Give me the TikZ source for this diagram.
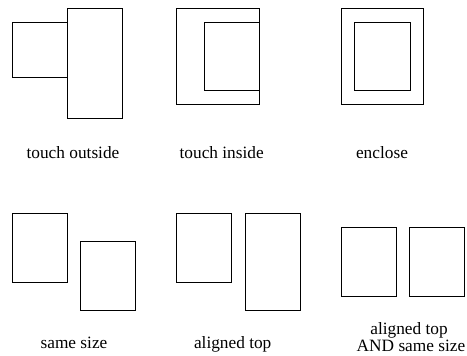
\documentclass[tikz,border=0pt]{standalone}
\usepackage{fontspec}
\setmainfont{Liberation Serif}
\begin{document}
\begin{tikzpicture}[x=1pt,y=-1pt,
  box/.style={draw=black,line width=1pt},
  lbl/.style={anchor=base,inner sep=0pt,font=\fontsize{17.3}{17.4}\selectfont}]
\useasboundingbox (0,0) rectangle (467,356);
% touch outside
\draw[box] (12.3,22.3) rectangle (67.3,77);
\draw[box] (67.3,8.3) rectangle (122,118);
\node[lbl] (l1) at (73,158.5) {touch outside};
% touch inside
\draw[box] (176.7,8.3) rectangle (259,104.7);
\draw[box] (204,22.3) rectangle (259,90.7);
\node[lbl] (l2) at (221.7,158.5) {touch inside};
% enclose
\draw[box] (341,8.3) rectangle (423.7,104.7);
\draw[box] (354.7,22.3) rectangle (410,90.7);
\node[lbl] (l3) at (382,158.5) {enclose};
% same size
\draw[box] (12.3,213.7) rectangle (67.3,282.7);
\draw[box] (80.7,241.3) rectangle (135.7,310);
\node[lbl] (l4) at (74,348) {same size};
% aligned top
\draw[box] (176.7,213.7) rectangle (231.7,282.7);
\draw[box] (245.3,213.7) rectangle (300,310);
\node[lbl] (l5) at (232.7,348) {aligned top};
% aligned top AND same size
\draw[box] (341,227.7) rectangle (396.3,296.7);
\draw[box] (409.7,227.7) rectangle (464.7,296.7);
\node[lbl] (l6) at (409,334) {aligned top};
\node[lbl] (l7) at (411,351) {AND same size};
\end{tikzpicture}
\end{document}
